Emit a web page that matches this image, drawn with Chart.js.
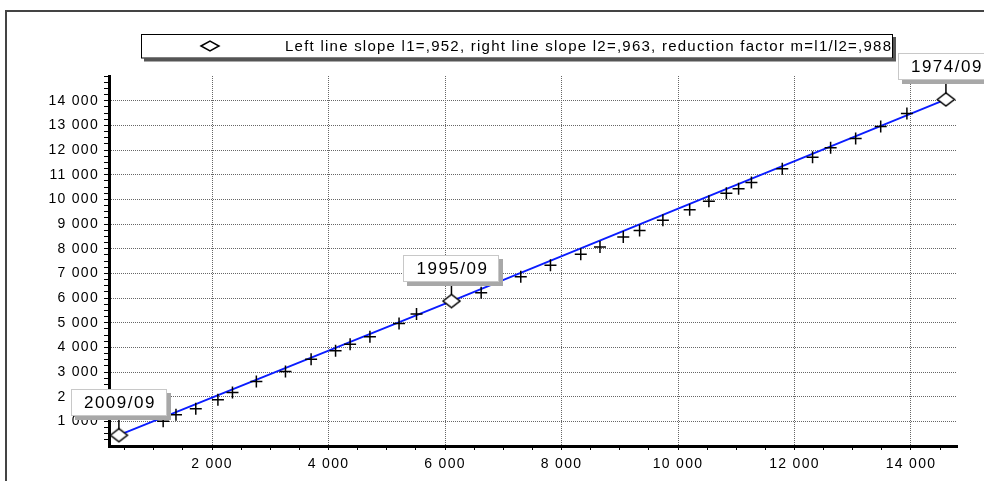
<!DOCTYPE html>
<html>
<head>
<meta charset="utf-8">
<title>Slope chart</title>
<script src="https://cdn.jsdelivr.net/npm/chart.js@4/dist/chart.umd.min.js"></script>
<style>
  html, body { margin: 0; padding: 0; background: #fff; }
</style>
</head>
<body>
<canvas id="slope-chart" width="984" height="481"></canvas>
<script>
// monthly observations (+)
const crossX = [1160, 1380, 1720, 2100, 2350, 2760, 3260, 3700, 4120, 4370, 4710, 5210, 5510,
  6620, 7300, 7810, 8330, 8660, 9060, 9340, 9740, 10200, 10530, 10830, 11040, 11260,
  11790, 12310, 12620, 13050, 13480, 13930];
const crossY = [1000, 1270, 1510, 1880, 2170, 2610, 3020, 3520, 3860, 4130, 4430, 4970, 5350,
  6210, 6860, 7330, 7770, 8070, 8470, 8740, 9150, 9580, 9920, 10250, 10430, 10680,
  11240, 11710, 12090, 12470, 12950, 13480];

// break points of the fitted lines (<>)
const markDates = ['2009/09', '1995/09', '1974/09'];
const markX = [400, 6110, 14600];
const markY = [440, 5876, 14052];

const legendText = 'Left line slope l1=,952, right line slope l2=,963, reduction factor m=l1/l2=,988';

// labelled ticks, minor ticks every 500 / 250
const xLabelTicks = [2000, 4000, 6000, 8000, 10000, 12000, 14000];
const yLabelTicks = [1000, 2000, 3000, 4000, 5000, 6000, 7000, 8000, 9000, 10000, 11000, 12000, 13000, 14000];

const fmt = v => String(v).replace(/\B(?=(\d{3})+(?!\d))/g, ' ');

function stepTicks(from, to, step) {
	const out = [];
	for ( let v = from; v <= to; v += step ) out.push( { value: v } );
	return out;
}

function makeDiamond( w, h ) {
	const c = document.createElement( 'canvas' );
	c.width = w + 4;
	c.height = h + 4;
	const g = c.getContext( '2d' );
	const cx = c.width / 2, cy = c.height / 2;
	g.beginPath();
	g.moveTo( cx - w / 2, cy );
	g.lineTo( cx, cy - h / 2 );
	g.lineTo( cx + w / 2, cy );
	g.lineTo( cx, cy + h / 2 );
	g.closePath();
	g.fillStyle = '#fff';
	g.fill();
	g.lineWidth = 1.5;
	g.strokeStyle = '#000';
	g.stroke();
	return c;
}

const tickFont = { family: '"Liberation Sans", Arial', size: 14 };

const frame = {
	id: 'frame',
	beforeDraw( chart ) {
		const ctx = chart.ctx;
		ctx.save();
		ctx.strokeStyle = '#444';
		ctx.lineWidth = 2;
		ctx.strokeRect( 6, 11, 1200, 800 );
		ctx.restore();
		ctx.letterSpacing = '1.3px';
	},
};

const annotations = {
	id: 'annotations',
	afterDraw( chart ) {
		const { ctx, scales: { x, y } } = chart;
		ctx.save();

		// legend box
		ctx.fillStyle = '#555';
		ctx.fillRect( 144, 37, 752, 24.5 );
		ctx.fillStyle = '#fff';
		ctx.fillRect( 141, 34, 752, 24.5 );
		ctx.strokeStyle = '#000';
		ctx.lineWidth = 1;
		ctx.strokeRect( 141.5, 34.5, 751, 23.5 );
		const ld = makeDiamond( 18, 10 );
		ctx.drawImage( ld, 210 - ld.width / 2, 46 - ld.height / 2 );
		ctx.font = '15px "Liberation Sans", Arial';
		ctx.letterSpacing = '0px';
		const w0 = ctx.measureText( legendText ).width;
		ctx.letterSpacing = Math.max( 0, ( 606 - w0 ) / ( legendText.length - 1 ) ) + 'px';
		ctx.fillStyle = '#000';
		ctx.textAlign = 'left';
		ctx.textBaseline = 'middle';
		ctx.fillText( legendText, 285, 47 );

		// date labels above the break points
		ctx.font = '17px "Liberation Sans", Arial';
		ctx.letterSpacing = '1.5px';
		ctx.textAlign = 'center';
		markDates.forEach( ( txt, i ) => {
			const px = x.getPixelForValue( markX[ i ] );
			const py = y.getPixelForValue( markY[ i ] );
			ctx.strokeStyle = '#000';
			ctx.lineWidth = 1.5;
			ctx.beginPath();
			ctx.moveTo( px, py - 22 );
			ctx.lineTo( px, py - 6 );
			ctx.stroke();
			const bx = Math.round( px - 48 ), by = Math.round( py - 46 );
			ctx.fillStyle = '#a8a8a8';
			ctx.fillRect( bx + 4, by + 4, 96, 27 );
			ctx.fillStyle = '#fff';
			ctx.fillRect( bx, by, 96, 27 );
			ctx.strokeStyle = '#c8c8c8';
			ctx.lineWidth = 1;
			ctx.strokeRect( bx + 0.5, by + 0.5, 95, 26 );
			ctx.fillStyle = '#000';
			ctx.fillText( txt, px + 1, by + 14 );
		} );
		ctx.restore();
	},
};

const diamond = makeDiamond( 17, 13 );

new Chart( document.getElementById( 'slope-chart' ), {
	type: 'scatter',
	data: {
		datasets: [
			{
				data: crossX.map( ( v, i ) => ( { x: v, y: crossY[ i ] } ) ),
				pointStyle: 'cross',
				pointRadius: 6,
				borderColor: '#000',
				borderWidth: 1.5,
				showLine: false,
			},
			{
				data: markX.map( ( v, i ) => ( { x: v, y: markY[ i ] } ) ),
				showLine: true,
				borderColor: '#0a1cff',
				borderWidth: 1.8,
				pointStyle: diamond,
				pointRadius: 8,
				tension: 0,
			},
		],
	},
	options: {
		responsive: false,
		devicePixelRatio: 1,
		animation: false,
		layout: { padding: { top: 76, right: 27, left: 0, bottom: 0 } },
		plugins: {
			legend: { display: false },
			tooltip: { enabled: false },
		},
		scales: {
			x: {
				type: 'linear',
				min: 230,
				max: 14790,
				afterBuildTicks: s => { s.ticks = stepTicks( 500, 14500, 500 ); },
				afterFit: s => { s.height = 35; },
				grid: {
					color: c => ( c.tick && xLabelTicks.includes( c.tick.value ) ) ? '#666' : 'transparent',
					lineWidth: 1,
					tickColor: '#000',
					tickWidth: 1,
					tickLength: 4,
					tickBorderDash: [],
				},
				border: { color: '#000', width: 3, dash: [ 1, 1 ] },
				ticks: {
					autoSkip: false,
					maxRotation: 0,
					padding: 6,
					color: '#000',
					font: tickFont,
					callback: v => xLabelTicks.includes( v ) ? fmt( v ) : '',
				},
			},
			y: {
				type: 'linear',
				min: 0,
				max: 15000,
				afterBuildTicks: s => { s.ticks = stepTicks( 250, 15000, 250 ); },
				afterFit: s => { s.width = 109; },
				grid: {
					color: c => ( c.tick && yLabelTicks.includes( c.tick.value ) ) ? '#666' : 'transparent',
					lineWidth: 1,
					tickColor: '#000',
					tickWidth: 1,
					tickLength: 5,
					tickBorderDash: [],
				},
				border: { color: '#000', width: 3, dash: [ 1, 1 ] },
				ticks: {
					autoSkip: false,
					padding: 5,
					color: '#000',
					font: tickFont,
					callback: v => yLabelTicks.includes( v ) ? fmt( v ) : '',
				},
			},
		},
	},
	plugins: [ frame, annotations ],
} );
</script>
</body>
</html>
